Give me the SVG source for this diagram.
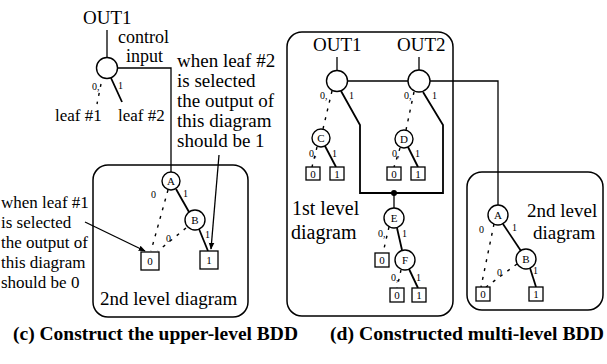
<svg xmlns="http://www.w3.org/2000/svg" width="607" height="364" viewBox="0 0 607 364">
<defs>
<marker id="arr" viewBox="0 0 10 10" refX="9" refY="5" markerWidth="7" markerHeight="7" orient="auto-start-reverse" markerUnits="userSpaceOnUse">
<path d="M0,1 L10,5 L0,9 z" fill="#000"/>
</marker>
<style>
text{font-family:"Liberation Serif","Times New Roman",serif;fill:#000}
.t{font-size:19px}
.s{font-size:17px}
.ci{font-size:18px}
.n1{font-size:17px}
.cap{font-size:19px;font-weight:bold}
.lb{font-size:10px}
.nl{font-size:11px;text-anchor:middle}
.ln{stroke:#000;stroke-width:1.3;fill:none}
.sd{stroke:#000;stroke-width:1.8;fill:none}
.ds{stroke:#000;stroke-width:1.4;fill:none;stroke-dasharray:3 6}
.nd{fill:#fff;stroke:#000;stroke-width:1.4}
.bx{fill:#fff;stroke:#000;stroke-width:1.3}
.frame{fill:none;stroke:#000;stroke-width:1.5}
</style>
</defs>
<rect width="607" height="364" fill="#fff"/>

<!-- frames -->
<g id="frame-c2"><rect class="frame" x="93" y="165" width="155" height="152" rx="15"/><text class="t" x="100" y="305">2nd level diagram</text></g>
<g id="frame-d1"><rect class="frame" x="287" y="32" width="166" height="284" rx="15"/><text style="font-size:20px" x="292" y="215">1st level</text><text style="font-size:20px" x="291" y="239">diagram</text></g>
<g id="frame-d2"><rect class="frame" x="467" y="172" width="136" height="138" rx="15"/><text class="t" x="527" y="217">2nd level</text><text class="t" x="533" y="239">diagram</text></g>

<g id="connectors">
<!-- panel c -->
<line class="ln" x1="107" y1="30" x2="107" y2="58"/>
<polyline class="ln" points="118,68 171,68 171,172"/>
<line class="sd" x1="111" y1="78" x2="122" y2="102"/>
<line class="ds" x1="101" y1="84" x2="97" y2="104"/>
<line class="ln" x1="219" y1="155" x2="211" y2="249" marker-end="url(#arr)"/>
<line class="ln" x1="85" y1="222" x2="145" y2="251" marker-end="url(#arr)"/>
<line class="sd" x1="176" y1="189" x2="189" y2="212"/>
<line class="sd" x1="199" y1="229" x2="208" y2="251"/>
<line class="ds" x1="168" y1="190" x2="151" y2="251"/>
<line class="ds" x1="186" y1="228" x2="158" y2="251"/>
<!-- panel d -->
<line class="ln" x1="337" y1="57" x2="337" y2="71"/>
<line class="ln" x1="419" y1="57" x2="419" y2="70"/>
<line class="ln" x1="348" y1="81" x2="408" y2="81"/>
<polyline class="ln" points="430,81 498,81 498,205"/>
<polyline class="sd" points="341,91 360,125 360,193 443,193 443,125 423,92"/>
<line class="ln" x1="394" y1="193" x2="394" y2="208"/>
<circle cx="394" cy="193" r="3" fill="#000"/>
<line class="ds" x1="332" y1="91" x2="323" y2="129"/>
<line class="ds" x1="414" y1="92" x2="406" y2="130"/>
<line class="sd" x1="325" y1="146" x2="336" y2="167"/>
<line class="ds" x1="317" y1="147" x2="312" y2="167"/>
<line class="sd" x1="408" y1="147" x2="418" y2="167"/>
<line class="ds" x1="400" y1="148" x2="394" y2="167"/>
<line class="sd" x1="397" y1="228" x2="402" y2="250"/>
<line class="ds" x1="389" y1="227" x2="383" y2="253"/>
<line class="sd" x1="409" y1="269" x2="418" y2="288"/>
<line class="ds" x1="401" y1="270" x2="397" y2="288"/>
<line class="sd" x1="503" y1="224" x2="521" y2="251"/>
<line class="sd" x1="530" y1="268" x2="536" y2="287"/>
<line class="ds" x1="494" y1="224" x2="481" y2="287"/>
<line class="ds" x1="517" y1="264" x2="486" y2="287"/>
</g>

<!-- panel c nodes -->
<g id="c-out1"><text class="t" x="83" y="24">OUT1</text></g>
<g id="c-ctrl"><circle class="nd" cx="107" cy="68" r="10.5"/><text class="lb" x="92" y="90">0,</text><text class="lb" x="118" y="89">1</text></g>
<g id="c-labels"><text class="ci" x="118" y="43">control</text><text class="ci" x="126" y="62">input</text>
<text class="s" x="55" y="121">leaf #1</text><text class="s" x="118" y="121">leaf #2</text></g>
<g id="c-note2"><text class="t" x="177" y="67">when leaf #2</text><text class="t" x="177" y="87">is selected</text><text class="t" x="177" y="107">the output of</text><text class="t" x="177" y="127">this diagram</text><text class="t" x="177" y="147">should be 1</text></g>
<g id="c-note1"><text class="n1" x="1" y="208">when leaf #1</text><text class="n1" x="1" y="228">is selected</text><text class="n1" x="1" y="248">the output of</text><text class="n1" x="1" y="268">this diagram</text><text class="n1" x="1" y="288">should be 0</text></g>
<g id="c-A"><circle class="nd" cx="171" cy="181" r="9"/><text class="nl" x="171" y="185">A</text><text class="lb" x="151" y="198">0</text><text class="lb" x="183" y="197">1</text></g>
<g id="c-B"><circle class="nd" cx="195" cy="220" r="10"/><text class="nl" x="195" y="224">B</text><text class="lb" x="166" y="242">0</text><text class="lb" x="205" y="238">1</text></g>
<g id="c-0"><rect class="bx" x="141" y="252" width="18" height="18"/><text class="nl" x="150" y="265">0</text></g>
<g id="c-1"><rect class="bx" x="200" y="251" width="18" height="18"/><text class="nl" x="209" y="264">1</text></g>
<text class="cap" x="13" y="340" textLength="285" lengthAdjust="spacingAndGlyphs">(c) Construct the upper-level BDD</text>

<!-- panel d nodes -->
<g id="d-out1"><text class="t" x="313" y="51">OUT1</text><circle class="nd" cx="337" cy="81" r="10.5"/><text class="lb" x="320" y="99">0,</text><text class="lb" x="349" y="99">1</text></g>
<g id="d-out2"><text class="t" x="397" y="51">OUT2</text><circle class="nd" cx="419" cy="81" r="11"/><text class="lb" x="404" y="99">0,</text><text class="lb" x="432" y="99">1</text></g>
<g id="d-C"><circle class="nd" cx="321" cy="138" r="9"/><text class="nl" x="321" y="142">C</text><text class="lb" x="309" y="157">0,</text><text class="lb" x="332" y="157">1</text></g>
<g id="d-D"><circle class="nd" cx="404" cy="139" r="9"/><text class="nl" x="404" y="143">D</text><text class="lb" x="392" y="157">0,</text><text class="lb" x="415" y="157">1</text></g>
<g id="d-C0"><rect class="bx" x="306" y="167" width="14" height="13"/><text class="nl" x="313" y="178">0</text></g>
<g id="d-C1"><rect class="bx" x="330" y="167" width="14" height="13"/><text class="nl" x="337" y="178">1</text></g>
<g id="d-D0"><rect class="bx" x="387" y="167" width="14" height="13"/><text class="nl" x="394" y="178">0</text></g>
<g id="d-D1"><rect class="bx" x="411" y="167" width="14" height="13"/><text class="nl" x="418" y="178">1</text></g>
<g id="d-E"><circle class="nd" cx="394" cy="218" r="10"/><text class="nl" x="394" y="222">E</text><text class="lb" x="378" y="237">0,</text><text class="lb" x="402" y="237">1</text></g>
<g id="d-E0"><rect class="bx" x="375" y="253" width="14" height="14"/><text class="nl" x="382" y="264">0</text></g>
<g id="d-F"><circle class="nd" cx="405" cy="260" r="10"/><text class="nl" x="405" y="264">F</text><text class="lb" x="391" y="281">0,</text><text class="lb" x="416" y="281">1</text></g>
<g id="d-F0"><rect class="bx" x="390" y="288" width="14" height="14"/><text class="nl" x="397" y="299">0</text></g>
<g id="d-F1"><rect class="bx" x="412" y="288" width="14" height="14"/><text class="nl" x="419" y="299">1</text></g>
<g id="d-A"><circle class="nd" cx="498" cy="215" r="10"/><text class="nl" x="498" y="219">A</text><text class="lb" x="479" y="233">0</text><text class="lb" x="512" y="231">1</text></g>
<g id="d-B"><circle class="nd" cx="526" cy="259" r="10"/><text class="nl" x="526" y="263">B</text><text class="lb" x="497" y="276">0</text><text class="lb" x="533" y="274">1</text></g>
<g id="d-0"><rect class="bx" x="476" y="287" width="14" height="14"/><text class="nl" x="483" y="298">0</text></g>
<g id="d-1"><rect class="bx" x="529" y="287" width="14" height="14"/><text class="nl" x="536" y="298">1</text></g>
<text class="cap" x="330" y="340" textLength="274" lengthAdjust="spacingAndGlyphs">(d) Constructed multi-level BDD</text>
</svg>
